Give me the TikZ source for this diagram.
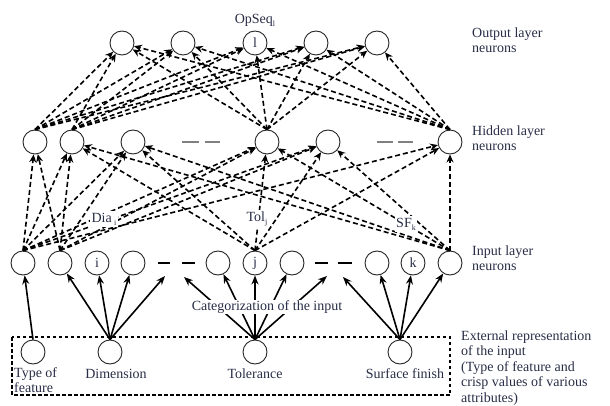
\documentclass[tikz,border=0pt]{standalone}
\usepackage{fontspec}
\setmainfont{Liberation Serif}
\usetikzlibrary{arrows.meta, positioning}
\definecolor{labeltext}{RGB}{40,45,70}
\tikzstyle{neuron} = [circle, draw=black!85, line width=0.9pt, minimum size=24pt, inner sep=0pt, text=labeltext]
\tikzstyle{darrow} = [line width=1.6pt, dash pattern=on 5pt off 3pt, -{Stealth[length=8pt,width=7pt]}]
\tikzstyle{sarrow} = [line width=1.6pt, -{Stealth[length=9pt,width=7pt]}]
\tikzstyle{caption} = [text=labeltext, align=left, inner sep=0pt]
\tikzstyle{tag} = [text=labeltext, fill=white, inner sep=1.5pt]
\tikzstyle{gapmark} = [line width=1.2pt]
\tikzstyle{extbox} = [line width=1.3pt, dash pattern=on 3.5pt off 2.5pt]
\newcommand{\lowidx}[1]{\raisebox{-0.45ex}{\footnotesize #1}}

\begin{document}
\begin{tikzpicture}[x=1pt, y=-1pt, font=\fontsize{14}{15.5}\selectfont]
        \useasboundingbox (0,0) rectangle (610,406);

        % Output layer
        \node (out1) [neuron] at (122,43) {};
        \node (out2) [neuron] at (183,43) {};
        \node (out3) [neuron] at (255,43) {l};
        \node (out4) [neuron] at (316,43) {};
        \node (out5) [neuron] at (377,43) {};
        \node (opseq) [caption, above=4pt of out3] {OpSeq\lowidx{l}};

        % Hidden layer
        \node (hid1) [neuron] at (35,142) {};
        \node (hid2) [neuron] at (72,142) {};
        \node (hid3) [neuron] at (133,142) {};
        \node (hid4) [neuron] at (267,142) {};
        \node (hid5) [neuron] at (328,142) {};
        \node (hid6) [neuron] at (450,142) {};
        \draw [gapmark, gray] (182,142) -- (199,142) (205,142) -- (220,142);
        \draw [gapmark, gray] (377,142) -- (393,142) (398,142) -- (413,142);

        % Input layer
        \node (inp1) [neuron] at (23,263) {};
        \node (inp2) [neuron] at (60,263) {};
        \node (inp3) [neuron] at (97,263) {i};
        \node (inp4) [neuron] at (133,263) {};
        \node (inp5) [neuron] at (218,263) {};
        \node (inp6) [neuron] at (255,263) {j};
        \node (inp7) [neuron] at (292,263) {};
        \node (inp8) [neuron] at (377,263) {};
        \node (inp9) [neuron] at (413,263) {k};
        \node (inp10) [neuron] at (450,263) {};
        \draw [gapmark] (158,263) -- (170,263) (182,263) -- (195,263);
        \draw [gapmark] (315,263) -- (328,263) (338,263) -- (352,263);
        \coordinate (gapA1) at (165,276);
        \coordinate (gapA2) at (184,277);
        \coordinate (gapB1) at (327,276);
        \coordinate (gapB2) at (343,277);

        % External representation of the input
        \node (tf) [neuron] at (33,352) {};
        \node (dim) [neuron] at (110,352) {};
        \node (tol) [neuron] at (255,352) {};
        \node (sf) [neuron] at (400,352) {};
        \node (tflabel) [caption, anchor=west] at (14,380) {Type of\\feature};
        \node (dimlabel) [caption] at (116,374) {Dimension};
        \node (tollabel) [caption] at (255,374) {Tolerance};
        \node (sflabel) [caption] at (405,374) {Surface finish};
        \draw [extbox] (12,337) rectangle (450,395);

        % Layer captions
        \node (outcap) [caption, anchor=west] at (472,40) {Output layer\\neurons};
        \node (hidcap) [caption, anchor=west] at (472,138) {Hidden layer\\neurons};
        \node (inpcap) [caption, anchor=west] at (472,258) {Input layer\\neurons};
        \node (extcap) [caption, anchor=west] at (461,368) {External representation\\of the input\\(Type of feature and\\crisp values of various\\attributes)};

        % Solid arrows to the input layer
        \draw [sarrow] (tf.north) -- (inp1);
        \draw [sarrow] (dim.north) -- (inp2);
        \draw [sarrow] (dim.north) -- (inp3);
        \draw [sarrow] (dim.north) -- (inp4);
        \draw [sarrow] (dim.north) -- (gapA1);
        \draw [sarrow] (tol.north) -- (gapA2);
        \draw [sarrow] (tol.north) -- (inp5);
        \draw [sarrow] (tol.north) -- (inp6);
        \draw [sarrow] (tol.north) -- (inp7);
        \draw [sarrow] (tol.north) -- (gapB1);
        \draw [sarrow] (sf.north) -- (gapB2);
        \draw [sarrow] (sf.north) -- (inp8);
        \draw [sarrow] (sf.north) -- (inp9);
        \draw [sarrow] (sf.north) -- (inp10);

        % Input to hidden
        \draw [darrow] (inp1.north) -- (hid1); \draw [darrow] (inp1.north) -- (hid2); \draw [darrow] (inp1.north) -- (hid3);
        \draw [darrow] (inp1.north) -- (hid4); \draw [darrow] (inp1.north) -- (hid5); \draw [darrow] (inp1.north) -- (hid6);
        \draw [darrow] (inp2.north) -- (hid1); \draw [darrow] (inp2.north) -- (hid2); \draw [darrow] (inp2.north) -- (hid3);
        \draw [darrow] (inp2.north) -- (hid4); \draw [darrow] (inp2.north) -- (hid5);
        \draw [darrow] (inp6.north) -- (hid2); \draw [darrow] (inp6.north) -- (hid3); \draw [darrow] (inp6.north) -- (hid4);
        \draw [darrow] (inp6.north) -- (hid5); \draw [darrow] (inp6.north) -- (hid6);
        \draw [darrow] (inp10.north) -- (hid2); \draw [darrow] (inp10.north) -- (hid3); \draw [darrow] (inp10.north) -- (hid4);
        \draw [darrow] (inp10.north) -- (hid5); \draw [darrow] (inp10.north) -- (hid6);

        % Hidden to output
        \draw [darrow] (hid1.north) -- (out1); \draw [darrow] (hid1.north) -- (out2); \draw [darrow] (hid1.north) -- (out3);
        \draw [darrow] (hid1.north) -- (out4); \draw [darrow] (hid1.north) -- (out5);
        \draw [darrow] (hid2.north) -- (out1); \draw [darrow] (hid2.north) -- (out2); \draw [darrow] (hid2.north) -- (out3);
        \draw [darrow] (hid2.north) -- (out4); \draw [darrow] (hid2.north) -- (out5);
        \draw [darrow] (hid4.north) -- (out1); \draw [darrow] (hid4.north) -- (out2); \draw [darrow] (hid4.north) -- (out3);
        \draw [darrow] (hid4.north) -- (out4); \draw [darrow] (hid4.north) -- (out5);
        \draw [darrow] (hid6.north) -- (out1); \draw [darrow] (hid6.north) -- (out2); \draw [darrow] (hid6.north) -- (out3);
        \draw [darrow] (hid6.north) -- (out4); \draw [darrow] (hid6.north) -- (out5);

        % Labels on top of the lines
        \node (cat) [tag, inner sep=0.5pt] at (267,307) {Categorization of the input};
        \node (dia) [tag] at (104,219) {Dia\,\lowidx{i}};
        \node (tolj) [tag] at (257,219) {Tol\lowidx{j}};
        \node (sfk) [tag] at (406,224) {SF\lowidx{k}};
    \end{tikzpicture}
\end{document}
